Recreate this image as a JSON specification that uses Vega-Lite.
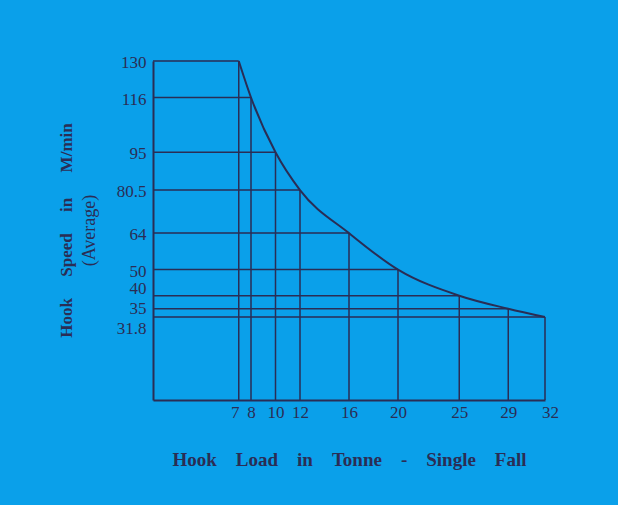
{
  "$schema": "https://vega.github.io/schema/vega-lite/v6.json",
  "autosize": {"type": "none"},
  "width": 392,
  "height": 339,
  "padding": {"left": 153, "top": 61, "right": 73, "bottom": 105},
  "background": "#0aa0ea",
  "config": {
    "view": {"stroke": null},
    "font": "Liberation Serif"
  },
  "title": {
    "text": "Hook\u00a0\u00a0\u00a0\u00a0\u00a0Speed\u00a0\u00a0\u00a0\u00a0\u00a0in\u00a0\u00a0\u00a0\u00a0\u00a0\u00a0M/min",
    "subtitle": "(Average)",
    "orient": "left",
    "anchor": "middle",
    "offset": 16,
    "font": "Liberation Serif",
    "fontSize": 17,
    "fontWeight": "bold",
    "color": "#2a2d55",
    "subtitleFont": "Liberation Serif",
    "subtitleFontSize": 18,
    "subtitleColor": "#2a2d55",
    "subtitlePadding": 5
  },
  "data": {
    "values": [
      {"load": 7, "speed": 130},
      {"load": 8, "speed": 116},
      {"load": 10, "speed": 95},
      {"load": 12, "speed": 80.5},
      {"load": 16, "speed": 64},
      {"load": 20, "speed": 50},
      {"load": 25, "speed": 40},
      {"load": 29, "speed": 35},
      {"load": 32, "speed": 31.8}
    ]
  },
  "encoding": {
    "x": {
      "field": "load", "type": "quantitative",
      "scale": {"domain": [0, 32], "nice": false, "zero": false},
      "axis": {
        "values": [7, 8, 10, 12, 16, 20, 25, 29, 32],
        "labelExpr": "'' + datum.value",
        "labelOffset": {"condition": [{"test": "datum.value == 7", "value": -4}, {"test": "datum.value == 32", "value": 5}], "value": 0},
        "grid": false, "ticks": false,
        "domainColor": "#2a2d55", "domainWidth": 2,
        "labelColor": "#2a2d55", "labelFont": "Liberation Serif", "labelFontSize": 17,
        "labelPadding": 4, "labelFlush": false, "labelOverlap": false,
        "title": "Hook\u00a0\u00a0\u00a0\u00a0Load\u00a0\u00a0\u00a0\u00a0in\u00a0\u00a0\u00a0\u00a0Tonne\u00a0\u00a0\u00a0\u00a0-\u00a0\u00a0\u00a0\u00a0Single\u00a0\u00a0\u00a0\u00a0Fall",
        "titleFont": "Liberation Serif", "titleFontSize": 19, "titleFontWeight": "bold",
        "titleColor": "#2a2d55", "titlePadding": 30
      }
    },
    "y": {
      "field": "speed", "type": "quantitative",
      "scale": {"domain": [0, 130], "nice": false},
      "axis": {
        "values": [130, 116, 95, 80.5, 64, 50, 40, 35, 31.8],
        "labelExpr": "'' + datum.value",
        "labelOffset": {"condition": [{"test": "datum.value == 40", "value": -7}, {"test": "datum.value == 35", "value": 0}, {"test": "datum.value == 31.8", "value": 11}], "value": 1.5},
        "grid": false, "ticks": false,
        "domainColor": "#2a2d55", "domainWidth": 2,
        "labelColor": "#2a2d55", "labelFont": "Liberation Serif", "labelFontSize": 17,
        "labelPadding": 7, "labelFlush": false, "labelOverlap": false,
        "title": null
      }
    }
  },
  "layer": [
    {
      "mark": {"type": "rule", "color": "#2a2d55", "strokeWidth": 1.5},
      "encoding": {
        "x2": {"datum": 0}
      }
    },
    {
      "mark": {"type": "rule", "color": "#2a2d55", "strokeWidth": 1.5},
      "encoding": {
        "y2": {"datum": 0}
      }
    },
    {
      "mark": {"type": "line", "color": "#2a2d55", "strokeWidth": 2, "interpolate": "monotone"},
      "encoding": {}
    }
  ]
}
